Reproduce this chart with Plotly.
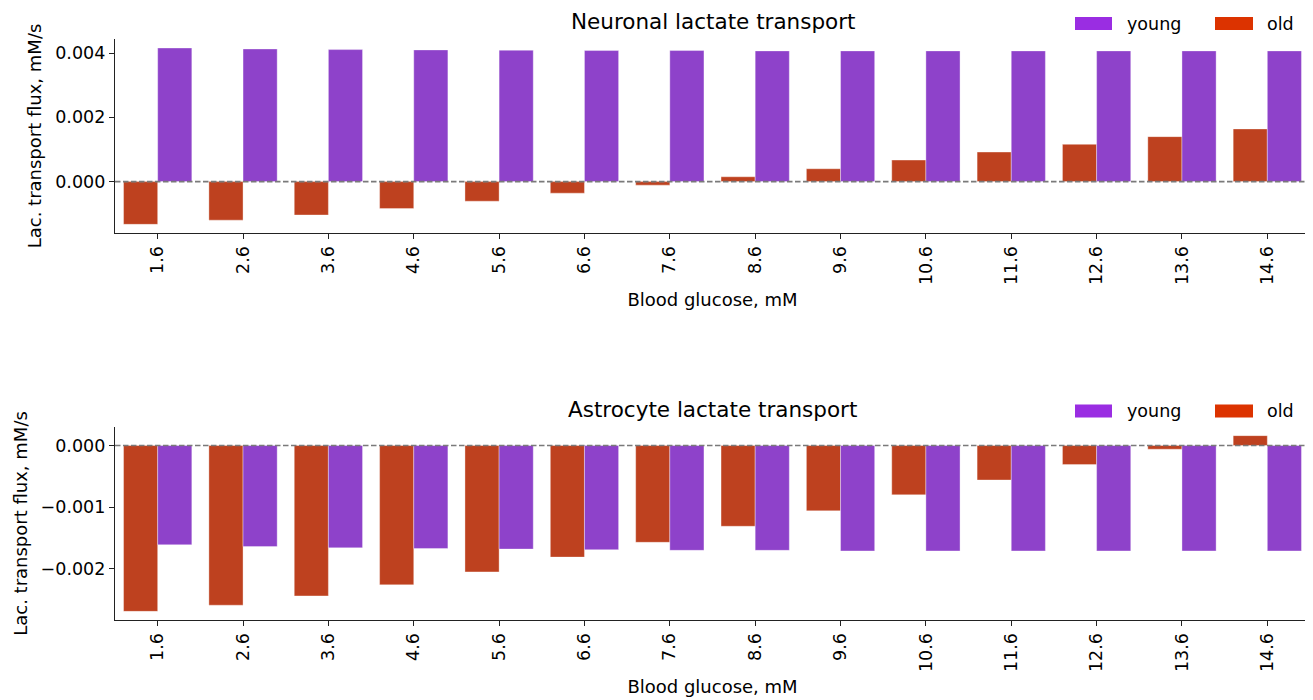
import plotly.graph_objects as go
from plotly.subplots import make_subplots

# ---- data ----
glucose = ["1.6", "2.6", "3.6", "4.6", "5.6", "6.6", "7.6",
           "8.6", "9.6", "10.6", "11.6", "12.6", "13.6", "14.6"]
neuron_young = [0.00416, 0.00413, 0.00411, 0.00410, 0.00409, 0.00408, 0.00408,
                0.00407, 0.00407, 0.00407, 0.00407, 0.00407, 0.00407, 0.00407]
neuron_old = [-0.00133, -0.00120, -0.00104, -0.00084, -0.00061, -0.00036, -0.00011,
              0.00015, 0.00040, 0.00067, 0.00092, 0.00116, 0.00140, 0.00164]
astro_young = [-0.00161, -0.00164, -0.00166, -0.00167, -0.00168, -0.00169, -0.00170,
               -0.00170, -0.00171, -0.00171, -0.00171, -0.00171, -0.00171, -0.00171]
astro_old = [-0.00269, -0.00259, -0.00244, -0.00226, -0.00205, -0.00181, -0.00157,
             -0.00131, -0.00106, -0.00080, -0.00056, -0.00031, -0.00006, 0.00016]
series_names = ["young", "old"]
titles = ["Neuronal lactate transport", "Astrocyte lactate transport"]
neuron_ticks = [0, 0.002, 0.004]
neuron_ticktext = ["0.000", "0.002", "0.004"]
astro_ticks = [-0.002, -0.001, 0]
astro_ticktext = ["\u22120.002", "\u22120.001", "0.000"]

# ---- style ----
bar_colors = {"young": "#8E42CA", "old": "#BE411F"}
legend_colors = {"young": "#9A2DE2", "old": "#DC3300"}
FONT = "DejaVu Sans"
TXT = "#000000"
TICK_SIZE = 17.5
LABEL_SIZE = 18
TITLE_SIZE = 21.5

OFF = 8                      # page body margin
W, H = 1313 - OFF, 700 - OFF
L, R, T, B = 115 - OFF, 3, 39 - OFF, 80
PW, PH = W - L - R, H - T - B

def px_x(p):
    return (p - OFF - L) / PW

def px_y(p):
    return (H - B - (p - OFF)) / PH

fig = make_subplots(rows=2, cols=1, vertical_spacing=0.0)

panels = [(neuron_old, neuron_young), (astro_old, astro_young)]
for i, (old, young) in enumerate(panels, start=1):
    fig.add_trace(go.Bar(x=glucose, y=old, name="old", marker_color=bar_colors["old"],
                         marker_line=dict(color="rgba(255,255,255,0.45)", width=0.8),
                         showlegend=False), row=i, col=1)
    fig.add_trace(go.Bar(x=glucose, y=young, name="young", marker_color=bar_colors["young"],
                         marker_line=dict(color="rgba(255,255,255,0.45)", width=0.8),
                         showlegend=False), row=i, col=1)

fig.update_layout(
    width=W, height=H, barmode="group", bargap=0.2, bargroupgap=0.0,
    plot_bgcolor="white", paper_bgcolor="white",
    margin=dict(l=L, r=R, t=T, b=B),
    font=dict(family=FONT, size=TICK_SIZE, color=TXT),
)

top_dom = [px_y(233), 1.0]
bot_dom = [0.0, px_y(427)]
fig.update_layout(
    yaxis=dict(domain=top_dom, range=[-0.0016, 0.00444], tickmode="array",
               tickvals=neuron_ticks, ticktext=neuron_ticktext),
    yaxis2=dict(domain=bot_dom, range=[-0.00283, 0.0003], tickmode="array",
                tickvals=astro_ticks, ticktext=astro_ticktext),
)
axis_common = dict(showline=True, linecolor="#222", linewidth=1.3, ticks="outside",
                   ticklen=5, tickwidth=1.2, tickcolor="#222", showgrid=False,
                   zeroline=False, tickfont=dict(family=FONT, size=TICK_SIZE, color=TXT))
fig.update_xaxes(**axis_common, tickangle=-90, range=[-0.5, 13.5],
                 title=dict(text="Blood glucose, mM", standoff=9,
                            font=dict(family=FONT, size=LABEL_SIZE, color=TXT)))
fig.update_yaxes(**axis_common,
                 title=dict(text="Lac. transport flux, mM/s", standoff=8,
                            font=dict(family=FONT, size=LABEL_SIZE, color=TXT)))

# zero reference lines
for xr, yr in [("x domain", "y"), ("x2 domain", "y2")]:
    fig.add_shape(type="line", xref=xr, yref=yr, x0=0, x1=1, y0=0, y1=0,
                  line=dict(color="#7a7a7a", width=1.7, dash="5.5px,2.5px"))

# titles
for title, yc in zip(titles, [22, 410]):
    fig.add_annotation(text=title, xref="paper", yref="paper", x=0.5, y=px_y(yc),
                       xanchor="center", yanchor="middle", showarrow=False,
                       font=dict(family=FONT, size=TITLE_SIZE, color=TXT))

# legends (matplotlib-style wide swatches)
sw_x = {"young": (1075, 1112), "old": (1215, 1253)}
txt_x = {"young": 1125, "old": 1265}
for yc in [23.5, 411]:
    for name in series_names:
        x0, x1 = sw_x[name]
        fig.add_shape(type="rect", xref="paper", yref="paper",
                      x0=px_x(x0), x1=px_x(x1), y0=px_y(yc + 6.5), y1=px_y(yc - 6.5),
                      fillcolor=legend_colors[name], line=dict(width=0))
        fig.add_annotation(text=name, xref="paper", yref="paper", x=px_x(txt_x[name]),
                           y=px_y(yc), xanchor="left", yanchor="middle", showarrow=False,
                           font=dict(family=FONT, size=TICK_SIZE, color=TXT))

fig.write_html("out.html")
